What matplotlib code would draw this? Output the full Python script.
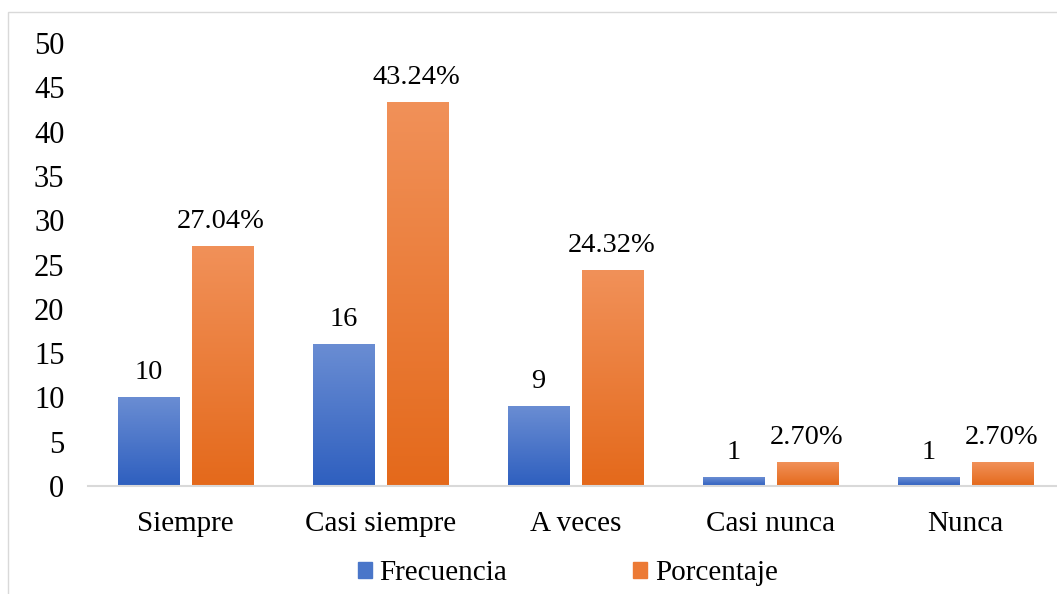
import numpy as np
import matplotlib.pyplot as plt
from matplotlib.colors import LinearSegmentedColormap
from matplotlib.patches import Rectangle, Patch

plt.rcParams['font.family'] = ['Liberation Serif', 'DejaVu Serif']

categorias = ["Siempre", "Casi siempre", "A veces", "Casi nunca", "Nunca"]
frecuencia = [10, 16, 9, 1, 1]
porcentaje = [27.04, 43.24, 24.32, 2.70, 2.70]
yticks = [0, 5, 10, 15, 20, 25, 30, 35, 40, 45, 50]

azul = LinearSegmentedColormap.from_list("azul", ["#2e5fbf", "#6a8dd3"])
naranja = LinearSegmentedColormap.from_list("naranja", ["#e4691b", "#f19159"])

fig = plt.figure(figsize=(10.57, 5.94), dpi=100)
ax = fig.add_axes([88/1057, 108/594, 975/1057, 443/594])

x = np.arange(len(categorias))
w = 0.315
off = 0.19

b1 = ax.bar(x - off, frecuencia, w, color='none', edgecolor='none')
b2 = ax.bar(x + off, porcentaje, w, color='none', edgecolor='none')

# relleno degradado de cada barra
grad = np.linspace(0, 1, 256).reshape(-1, 1)
for bars, cmap in [(b1, azul), (b2, naranja)]:
    for b in bars:
        x0 = b.get_x()
        h = b.get_height()
        ax.imshow(grad, extent=[x0, x0 + b.get_width(), 0, h], origin='lower',
                  aspect='auto', cmap=cmap, zorder=2)

for b, v in zip(b1, frecuencia):
    ax.annotate(str(v), (b.get_x() + b.get_width()/2, b.get_height()),
                xytext=(0, 9), textcoords='offset points', ha='center', va='bottom',
                fontsize=20.5)
for b, v in zip(b2, porcentaje):
    ax.annotate(f"{v:.2f}%", (b.get_x() + b.get_width()/2, b.get_height()),
                xytext=(-1, 9), textcoords='offset points', ha='center', va='bottom',
                fontsize=20.5)

ax.set_xlim(-0.5, 4.5)
ax.set_ylim(0, 50)
ax.set_yticks(yticks)
ax.set_xticks(x)
ax.set_xticklabels(categorias)
ax.tick_params(axis='y', length=0, pad=17, labelsize=22)
ax.tick_params(axis='x', length=0, pad=18, labelsize=21)
for s in ['top', 'right', 'left']:
    ax.spines[s].set_visible(False)
ax.spines['bottom'].set_color('#d9d9d9')
ax.spines['bottom'].set_linewidth(1.5)

handles = [Patch(color='#4a76c9', label='Frecuencia'),
           Patch(color='#ec7a35', label='Porcentaje')]
fig.legend(handles=handles, loc='center', bbox_to_anchor=(0.537, 0.035), ncol=2,
           frameon=False, fontsize=21, handlelength=0.48, handleheight=0.48,
           handletextpad=0.27, columnspacing=4.3)

fig.patches.append(Rectangle((8/1057, -0.1), 1.2, 1.08 - 12/594 + 0.02,
                             transform=fig.transFigure, fill=False,
                             edgecolor='#d9d9d9', lw=1))

fig.savefig("out.png", dpi=100)
